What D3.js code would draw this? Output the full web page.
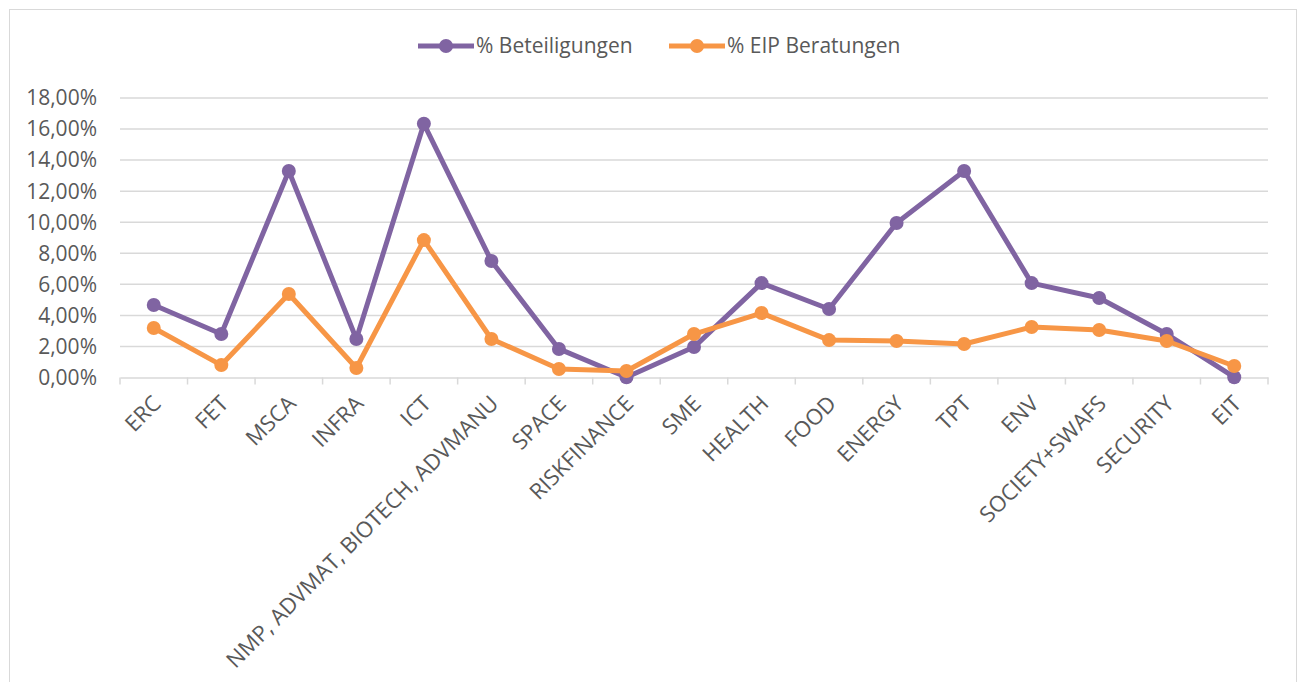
<!DOCTYPE html>
<html><head><meta charset="utf-8">
<script src="https://cdn.jsdelivr.net/npm/d3@7"></script>
<style>body{margin:0;background:#fff}svg{display:block}</style>
</head><body>
<script>
const categories = ["ERC","FET","MSCA","INFRA","ICT","NMP, ADVMAT, BIOTECH, ADVMANU","SPACE","RISKFINANCE","SME","HEALTH","FOOD","ENERGY","TPT","ENV","SOCIETY+SWAFS","SECURITY","EIT"];
const beteiligungen = [4.67,2.80,13.30,2.48,16.34,7.50,1.84,0.02,1.96,6.08,4.41,9.95,13.30,6.08,5.12,2.80,0.02];
const eipBeratungen = [3.19,0.80,5.38,0.61,8.85,2.48,0.55,0.42,2.80,4.15,2.41,2.35,2.16,3.25,3.06,2.35,0.74];
const seriesNames = ["% Beteiligungen","% EIP Beratungen"];
const yTicks = [0,2,4,6,8,10,12,14,16,18];

(function(){
const W = 1303, H = 682;
const font = "'Open Sans', 'Noto Sans', sans-serif";
const txt = "#595959", grid = "#D9D9D9";
const colors = ["#8064A2","#F79646"];

const svg = d3.select("body").append("svg").attr("width", W).attr("height", H);
svg.append("rect").attr("x",9.5).attr("y",9.5).attr("width",1287).attr("height",690)
  .attr("fill","#fff").attr("stroke","#D9D9D9").attr("stroke-width",1);

const pl = 120, pr = 1268, pt = 98, pb = 377.5;
const x = d3.scaleBand().domain(categories).range([pl, pr]);
const y = d3.scaleLinear().domain([0,18]).range([pb, pt]);

svg.append("g").selectAll("line").data(yTicks.filter(d=>d>0)).join("line")
  .attr("x1",pl).attr("x2",pr).attr("y1",d=>y(d)).attr("y2",d=>y(d))
  .attr("stroke",grid).attr("stroke-width",1.5);

const fmt = d => d.toFixed(2).replace(".",",") + "%";
svg.append("g").selectAll("text").data(yTicks).join("text")
  .attr("x", 97).attr("y", d=>y(d)).attr("dy","0.35em")
  .attr("text-anchor","end").attr("font-family",font).attr("font-size",21)
  .attr("fill",txt).text(fmt);

const xAxis = d3.axisBottom(x).tickSize(0).tickFormat("");
const gx = svg.append("g").attr("transform",`translate(0,${pb})`).call(xAxis);
gx.select(".domain").attr("stroke",grid).attr("stroke-width",1.5);
const bounds = categories.map(c=>x(c)).concat([pr]);
svg.append("g").selectAll("line").data(bounds).join("line")
  .attr("x1",d=>d).attr("x2",d=>d).attr("y1",pb).attr("y2",pb+7)
  .attr("stroke",grid).attr("stroke-width",1.5);

svg.append("g").selectAll("text").data(categories).join("text")
  .attr("transform", d=>`translate(${x(d)+x.bandwidth()/2+3},${pb+22}) rotate(-45)`)
  .attr("text-anchor","end").attr("dy","0.35em")
  .attr("font-family",font).attr("font-size",22).attr("fill",txt).text(d=>d);

const data = [beteiligungen, eipBeratungen];
const line = d3.line().x((d,i)=>x(categories[i])+x.bandwidth()/2).y(d=>y(d));
data.forEach((vals, s) => {
  const g = svg.append("g");
  g.append("path").datum(vals).attr("d", line).attr("fill","none")
    .attr("stroke",colors[s]).attr("stroke-width",5).attr("stroke-linejoin","round");
  g.selectAll("circle").data(vals).join("circle")
    .attr("cx",(d,i)=>x(categories[i])+x.bandwidth()/2).attr("cy",d=>y(d))
    .attr("r",7).attr("fill",colors[s]);
});

seriesNames.forEach((n,i)=>{
  const lx = [418,669][i], ly = 46;
  const g = svg.append("g");
  g.append("line").attr("x1",lx).attr("x2",lx+56).attr("y1",ly).attr("y2",ly)
    .attr("stroke",colors[i]).attr("stroke-width",5);
  g.append("circle").attr("cx",lx+28).attr("cy",ly).attr("r",7).attr("fill",colors[i]);
  g.append("text").attr("x",lx+58).attr("y",ly).attr("dy","0.35em")
    .attr("font-family",font).attr("font-size",21).attr("fill",txt).text(n);
});
})();
</script>
</body></html>
